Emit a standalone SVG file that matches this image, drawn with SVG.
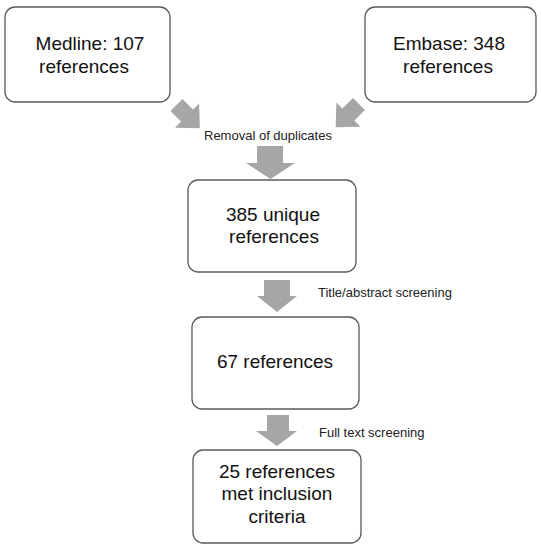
<svg xmlns="http://www.w3.org/2000/svg" width="541" height="550" viewBox="0 0 541 550">
<style>
.box{fill:#fff;stroke:#595959;stroke-width:1.3}
.t{font-family:"Liberation Sans",Arial,sans-serif;font-size:19px;fill:#111;text-anchor:middle}
.lbl{font-family:"Liberation Sans",Arial,sans-serif;font-size:13px;fill:#222}
.arr{fill:#a6a6a6}
</style>
<rect width="541" height="550" fill="#fff"/>
<g id="connectors">
<path class="arr" transform="translate(176.5,105) rotate(-45)" d="M-8.5,0 H8.5 V15 H17 L0,33 L-17,15 H-8.5 Z"/>
<path class="arr" transform="translate(359,104) rotate(45)" d="M-8.5,0 H8.5 V15 H17 L0,33 L-17,15 H-8.5 Z"/>
<path class="arr" d="M257,146 H283 V163 H295 L270.5,179 L246,163 H257 Z"/>
<path class="arr" d="M264,280 H290 V296 H297 L277,312 L257,296 H264 Z"/>
<path class="arr" d="M267,415 H289 V431 H297 L277,446 L256,431 H267 Z"/>
<text class="lbl" x="204" y="140">Removal of duplicates</text>
<text class="lbl" x="318" y="297">Title/abstract screening</text>
<text class="lbl" x="319" y="437">Full text screening</text>
</g>
<g id="medline">
<rect class="box" x="5" y="7" width="165" height="95" rx="10"/>
<text class="t" x="90" y="50">Medline: 107</text>
<text class="t" x="84" y="73">references</text>
</g>
<g id="embase">
<rect class="box" x="365" y="7" width="171" height="95" rx="10"/>
<text class="t" x="449" y="50">Embase: 348</text>
<text class="t" x="448" y="73">references</text>
</g>
<g id="unique">
<rect class="box" x="188" y="180" width="168" height="92" rx="10"/>
<text class="t" x="273" y="221">385 unique</text>
<text class="t" x="274" y="243">references</text>
</g>
<g id="screened">
<rect class="box" x="192" y="317" width="167" height="92" rx="10"/>
<text class="t" x="275" y="368">67 references</text>
</g>
<g id="included">
<rect class="box" x="193" y="450" width="168" height="93" rx="10"/>
<text class="t" x="277" y="478">25 references</text>
<text class="t" x="277" y="500">met inclusion</text>
<text class="t" x="277" y="523">criteria</text>
</g>
</svg>
